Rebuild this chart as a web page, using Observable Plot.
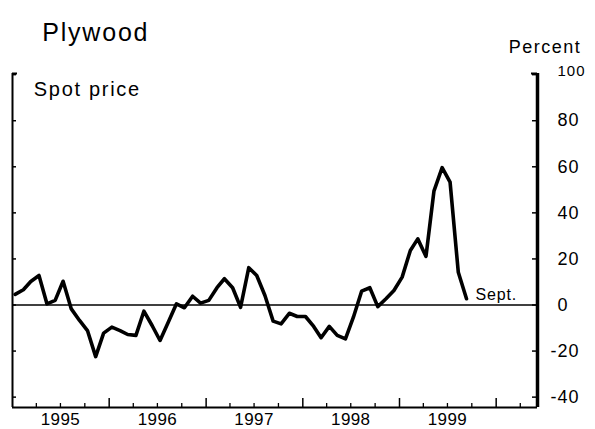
<!DOCTYPE html>
<html><head><meta charset="utf-8">
<script src="https://cdn.jsdelivr.net/npm/d3@7"></script>
<script src="https://cdn.jsdelivr.net/npm/@observablehq/plot@0.6"></script>
<style>
html,body{margin:0;padding:0;background:#fff;}
svg text{font-family:"Liberation Sans",Arial,Helvetica,sans-serif;}
</style></head><body><div id="chart"></div>
<script>
// ---- data ----
const title = "Plywood";
const seriesLabel = "Spot price";
const unitLabel = "Percent";
const endLabel = "Sept.";
const firstYear = 1995;            // series starts January 1995, monthly
const spotPrice = [
  4.6, 6.6, 10.2, 12.8, 0.5, 2.0, 10.3, -1.7, -6.7, -11.1, -22.4, -12.2,
  -9.6, -11.1, -12.8, -13.2, -2.7, -8.9, -15.4, -7.5, 0.5, -1.2, 3.8, 0.8,
  2.0, 7.5, 11.4, 7.5, -1.0, 16.2, 12.8, 4.1, -7.0, -8.2, -3.6, -5.0,
  -5.0, -9.3, -14.2, -9.3, -13.2, -14.7, -5.3, 6.0, 7.5, -0.7, 2.7, 6.3,
  12.1, 23.7, 28.7, 21.1, 49.4, 59.6, 53.3, 14.2, 2.7
];
const yearLabels = [1995, 1996, 1997, 1998, 1999];
const yearTicks = [1996, 1997, 1998, 1999, 2000];
const yTicks = [-40, -20, 0, 20, 40, 60, 80, 100];

// ---- layout ----
const W = 595, H = 429, mL = 12, mR = 58, mT = 73, mB = 22;
const pw = W - mL - mR, ph = H - mT - mB;
const utc = (y, m, d) => new Date(Date.UTC(y, m, d));
const data = spotPrice.map((v, i) => ({date: utc(firstYear, i, 11), value: v}));
const xDomain = [utc(1995, 0, 1), utc(2000, 5, 5)];
const yDomain = [-44.5, 100.5];
const quarterTicks = d3.utcMonths(utc(1995, 0, 1), utc(2000, 6, 1), 3).filter(d => d.getUTCMonth() !== 0);
const last = data[data.length - 1];

const chart = Plot.plot({
  width: W, height: H,
  marginLeft: mL, marginRight: mR, marginTop: mT, marginBottom: mB,
  style: {background: "#fff", color: "#000", fontFamily: '"Liberation Sans", Arial, Helvetica, sans-serif'},
  x: {type: "utc", domain: xDomain, axis: null},
  y: {domain: yDomain, axis: null},
  marks: [
    Plot.ruleY([0], {strokeWidth: 1.4}),
    Plot.line(data, {x: "date", y: "value", stroke: "#000", strokeWidth: 3.6}),
    // axes
    Plot.ruleX([xDomain[0]], {strokeWidth: 2}),
    Plot.ruleX([xDomain[1]], {strokeWidth: 3.5}),
    Plot.ruleY([yDomain[0]], {strokeWidth: 2}),
    Plot.tickY(yTicks, {y: d => d, insetRight: pw - 4, strokeWidth: 1.5}),
    Plot.tickY(yTicks, {y: d => d, insetLeft: pw - 5, strokeWidth: 1.5}),
    Plot.tickY([yDomain[1]], {y: d => d, insetRight: pw - 5, strokeWidth: 2}),
    Plot.tickY([yDomain[1]], {y: d => d, insetLeft: pw - 6, strokeWidth: 2}),
    Plot.tickX(yearTicks, {x: d => utc(d, 0, 1), insetTop: ph - 9, strokeWidth: 1.5}),
    Plot.tickX(quarterTicks, {x: d => d, insetTop: ph - 4, strokeWidth: 1.3}),
    // labels
    Plot.text(yearLabels, {x: d => utc(d, 6, 1), text: d => String(d), frameAnchor: "bottom", lineAnchor: "top", dy: 5, fontSize: 17}),
    Plot.text(yTicks.filter(d => d >= 0 && d < 100), {y: d => d, text: d => String(d), frameAnchor: "right", textAnchor: "start", dx: 20, fontSize: 18}),
    Plot.text(yTicks.filter(d => d < 0), {y: d => d, text: d => String(d), frameAnchor: "right", textAnchor: "start", dx: 13, fontSize: 18}),
    Plot.text(yTicks.filter(d => d === 100), {y: d => d, text: d => String(d), frameAnchor: "right", textAnchor: "start", dx: 20, dy: -3, fontSize: 15}),
    Plot.text([last], {x: "date", y: "value", text: () => endLabel, textAnchor: "start", dx: 9, dy: -3.5, fontSize: 16}),
    Plot.text([title], {frameAnchor: "top-left", textAnchor: "start", dx: 29.7, dy: -50.3, fontSize: 25}),
    Plot.text([seriesLabel], {frameAnchor: "top-left", textAnchor: "start", dx: 21.3, dy: 7.9, fontSize: 20}),
    Plot.text([unitLabel], {frameAnchor: "top-right", textAnchor: "start", dx: -28.7, dy: -33.1, fontSize: 18})
  ]
});

const spacing = {[title]: "1.8px", [seriesLabel]: "1.7px", [unitLabel]: "1.5px", [endLabel]: "0.8px"};
yTicks.forEach(t => spacing[String(t)] = "1px");
yearLabels.forEach(t => spacing[String(t)] = "0.4px");
chart.querySelectorAll("text").forEach(t => {
  const s = spacing[t.textContent];
  if (s) t.style.letterSpacing = s;
});
document.getElementById("chart").appendChild(chart);
</script>
</body></html>
